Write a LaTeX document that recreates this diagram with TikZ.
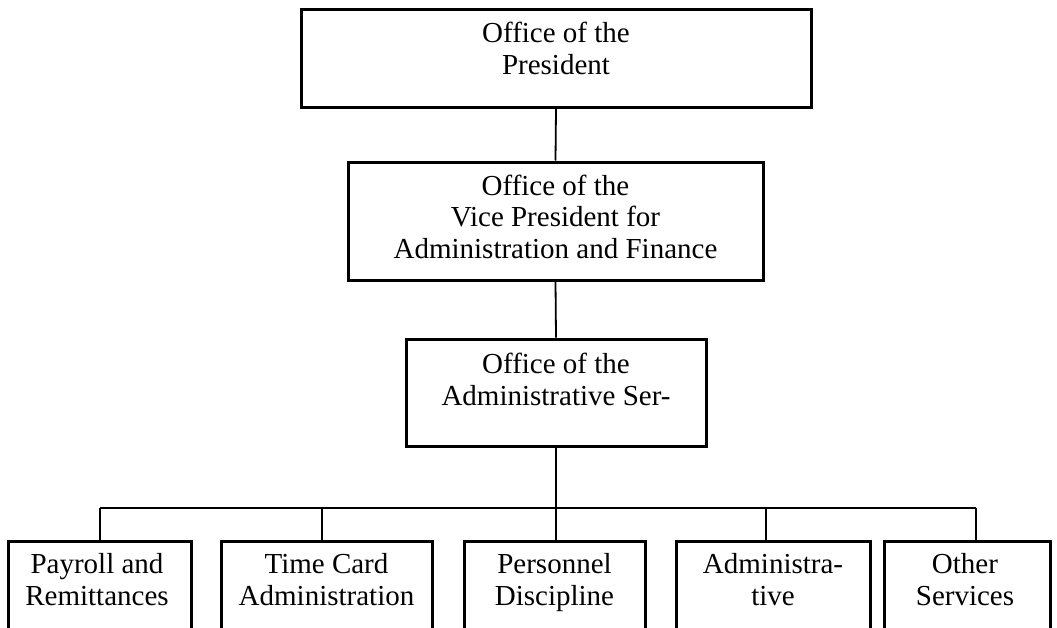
\documentclass[tikz,border=0pt]{standalone}
\usepackage{fontspec}
\setmainfont{Liberation Serif}
\begin{document}
\begin{tikzpicture}[x=1pt,y=-1pt,
  box/.style={draw=black,line width=3pt,inner sep=0pt,fill=none},
  txt/.style={inner sep=0pt,align=center,anchor=base,
    font=\fontsize{29}{31.5}\selectfont},
  link/.style={draw=black,line width=1.8pt}]
\clip (0,0) rectangle (1057,627);

% upper chain of offices (text nodes anchored at the last line's baseline)
\node[box,minimum width=510pt,minimum height=98pt] (pres) at (556,58) {};
\node[txt] (presT) at (556,74) {Office of the\\President};

\node[box,minimum width=415pt,minimum height=118pt] (vp) at (555.5,221) {};
\node[txt] (vpT) at (555.5,258) {Office of the\\Vice President for\\Administration and Finance};

\node[box,minimum width=300pt,minimum height=107pt] (adm) at (556,392.5) {};
\node[txt] (admT) at (556,405) {Office of the\\Administrative Ser-};

% units (boxes run past the lower edge)
\node[box,minimum width=183pt,minimum height=120pt] (u1) at (99.5,601) {};
\node[box,minimum width=211pt,minimum height=120pt] (u2) at (326.5,601) {};
\node[box,minimum width=181pt,minimum height=120pt] (u3) at (554.5,601) {};
\node[box,minimum width=194pt,minimum height=120pt] (u4) at (773,601) {};
\node[box,minimum width=166pt,minimum height=120pt] (u5) at (967,601) {};

\node[txt] (u1T) at (97,605) {Payroll and\\Remittances};
\node[txt] (u2T) at (326.5,605) {Time Card\\Administration};
\node[txt] (u3T) at (554.5,605) {Personnel\\Discipline};
\node[txt] (u4T) at (773,605) {Administra-\\tive};
\node[txt] (u5T) at (965,605) {Other\\Services};

% connectors
\draw[link] (pres.south) -- (vp.north);
\draw[link] (vp.south) -- (adm.north);

\coordinate (b1) at (100,508);
\coordinate (b2) at (322,508);
\coordinate (b3) at (556,508);
\coordinate (b4) at (766,508);
\coordinate (b5) at (976,508);

\draw[link] (adm.south) -- (b3);
\draw[link] (b1) -- (b5);
\draw[link] (b1) -- (b1 |- u1.north);
\draw[link] (b2) -- (b2 |- u2.north);
\draw[link] (b3) -- (b3 |- u3.north);
\draw[link] (b4) -- (b4 |- u4.north);
\draw[link] (b5) -- (b5 |- u5.north);
\end{tikzpicture}
\end{document}
